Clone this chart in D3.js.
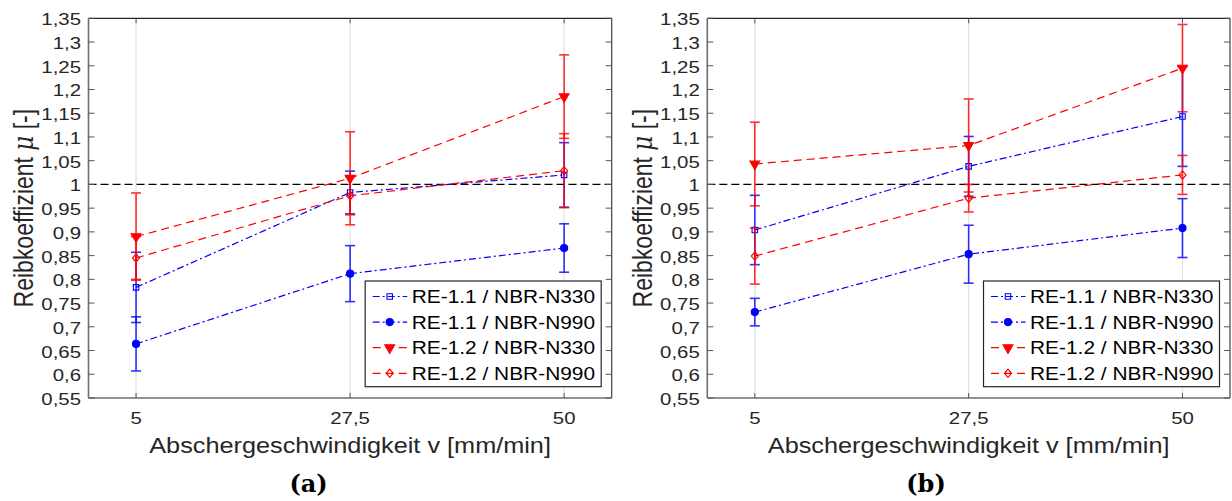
<!DOCTYPE html>
<html>
<head>
<meta charset="utf-8">
<script src="https://cdn.jsdelivr.net/npm/d3@7/dist/d3.min.js"></script>
<style>
  html, body { margin: 0; padding: 0; background: #fff; }
  svg { display: block; }
</style>
</head>
<body>
<script>
// Shear velocities (x categories) and axis ticks
const velocities = [5, 27.5, 50];
const xTickLabels = ["5", "27,5", "50"];
const yTicks = [0.55, 0.6, 0.65, 0.7, 0.75, 0.8, 0.85, 0.9, 0.95, 1, 1.05, 1.1, 1.15, 1.2, 1.25, 1.3, 1.35];

const seriesNames = ["RE-1.1 / NBR-N330", "RE-1.1 / NBR-N990", "RE-1.2 / NBR-N330", "RE-1.2 / NBR-N990"];

// Panel (a): mean friction coefficient and standard deviation
const a_RE11_N330 = [0.783, 0.983, 1.020];
const a_RE11_N330_err = [0.074, 0.045, 0.068];
const a_RE11_N990 = [0.664, 0.812, 0.866];
const a_RE11_N990_err = [0.057, 0.059, 0.051];
const a_RE12_N330 = [0.890, 1.013, 1.185];
const a_RE12_N330_err = [0.092, 0.098, 0.088];
const a_RE12_N990 = [0.845, 0.976, 1.029];
const a_RE12_N990_err = [0.045, 0.040, 0.078];

// Panel (b)
const b_RE11_N330 = [0.904, 1.038, 1.143];
const b_RE11_N330_err = [0.073, 0.063, 0.105];
const b_RE11_N990 = [0.731, 0.853, 0.908];
const b_RE11_N990_err = [0.029, 0.061, 0.062];
const b_RE12_N330 = [1.043, 1.082, 1.245];
const b_RE12_N330_err = [0.088, 0.098, 0.092];
const b_RE12_N990 = [0.849, 0.971, 1.020];
const b_RE12_N990_err = [0.059, 0.029, 0.041];

// Series styles
const styles = [
  { color: "#0000ff", dash: "7,3,2,3", marker: "square" },
  { color: "#0000ff", dash: "7,3,2,3", marker: "circle" },
  { color: "#ff0000", dash: "8,5", marker: "triangle" },
  { color: "#ff0000", dash: "8,5", marker: "diamond" }
];

const W = 1232, H = 501;
const TOP = 18.3, BOTTOM = 398;
const TEXT = "#262626";
const SANS = "'Liberation Sans', Arial, Helvetica, sans-serif";

const svg = d3.select("body").append("svg").attr("width", W).attr("height", H);

function fmt(v) { return String(+v.toFixed(2)).replace(".", ","); }

// Horizontally widened text, matching the figure's typography
function txt(g, x, y, str, o) {
  const t = g.append("text")
    .attr("transform", `translate(${x},${y}) scale(${o.sx || 1},1)` + (o.rotate ? " rotate(-90)" : ""))
    .attr("font-family", o.family || SANS)
    .attr("font-size", o.size)
    .attr("font-weight", o.weight || "normal")
    .attr("text-anchor", o.anchor || "start")
    .attr("fill", o.fill || TEXT);
  if (str !== null) t.text(str);
  return t;
}

function markerPath(kind) {
  switch (kind) {
    case "square": return d3.symbol(d3.symbolSquare, 30)();
    case "circle": return d3.symbol(d3.symbolCircle, 40)();
    case "triangle": return d3.symbol(d3.symbolTriangle, 42)();
    case "diamond": return d3.symbol(d3.symbolDiamond2, 32)();
  }
}

function drawMarker(g, kind, color, cx, cy) {
  const filled = kind === "circle" || kind === "triangle";
  let tr = `translate(${cx},${cy})`;
  if (kind === "triangle") tr += " rotate(180)";
  if (kind === "diamond") tr += " scale(1,1.15)";
  g.append("path")
    .attr("d", markerPath(kind))
    .attr("transform", tr)
    .attr("fill", filled ? color : "none")
    .attr("stroke", color)
    .attr("stroke-width", 1.1);
}

function drawPanel(x0, x1, means, errs, caption, captionX) {
  const g = svg.append("g");
  const x = d3.scaleLinear().domain([0, 55]).range([x0, x1]);
  const y = d3.scaleLinear().domain([0.55, 1.35]).range([BOTTOM, TOP]);

  // vertical grid at x ticks
  g.selectAll("line.grid").data(velocities).enter().append("line")
    .attr("x1", d => x(d)).attr("x2", d => x(d))
    .attr("y1", TOP).attr("y2", BOTTOM)
    .attr("stroke", "#e3e3e3").attr("stroke-width", 1.3);

  // reference line at mu = 1
  g.append("line")
    .attr("x1", x0).attr("x2", x1).attr("y1", y(1)).attr("y2", y(1))
    .attr("stroke", "#000").attr("stroke-width", 1.2).attr("stroke-dasharray", "8,4");

  const line = d3.line().x((d, i) => x(velocities[i])).y(d => y(d));

  means.forEach((m, s) => {
    const st = styles[s];
    const sg = g.append("g");
    // error bars
    m.forEach((v, i) => {
      const cx = x(velocities[i]);
      const e = errs[s][i];
      const eg = sg.append("g").attr("stroke", st.color).attr("stroke-width", 1.6).attr("opacity", 0.8);
      eg.append("line").attr("x1", cx).attr("x2", cx).attr("y1", y(v - e)).attr("y2", y(v + e));
      eg.append("line").attr("x1", cx - 5).attr("x2", cx + 5).attr("y1", y(v - e)).attr("y2", y(v - e));
      eg.append("line").attr("x1", cx - 5).attr("x2", cx + 5).attr("y1", y(v + e)).attr("y2", y(v + e));
    });
    // connecting line
    sg.append("path").datum(m).attr("d", line)
      .attr("fill", "none").attr("stroke", st.color).attr("stroke-width", 1.2)
      .attr("stroke-dasharray", st.dash);
    m.forEach((v, i) => drawMarker(sg, st.marker, st.color, x(velocities[i]), y(v)));
  });

  // axes box
  const ax = g.append("g");
  ax.append("line").attr("x1", x0).attr("x2", x1).attr("y1", TOP).attr("y2", TOP).attr("stroke", "#262626").attr("stroke-width", 1.2);
  ax.append("line").attr("x1", x1).attr("x2", x1).attr("y1", TOP).attr("y2", BOTTOM).attr("stroke", "#404040").attr("stroke-width", 1.2);
  ax.append("line").attr("x1", x0).attr("x2", x1).attr("y1", BOTTOM).attr("y2", BOTTOM).attr("stroke", "#6e6e6e").attr("stroke-width", 1.6);
  ax.append("line").attr("x1", x0).attr("x2", x0).attr("y1", TOP).attr("y2", BOTTOM).attr("stroke", "#6e6e6e").attr("stroke-width", 1.6);

  // inward ticks
  yTicks.forEach(t => {
    ax.append("line").attr("x1", x0).attr("x2", x0 + 6).attr("y1", y(t)).attr("y2", y(t)).attr("stroke", "#555").attr("stroke-width", 1);
    ax.append("line").attr("x1", x1).attr("x2", x1 - 6).attr("y1", y(t)).attr("y2", y(t)).attr("stroke", "#555").attr("stroke-width", 1);
    txt(g, x0 - 7.5, y(t) + 7, fmt(t), { size: 17, sx: 1.2, anchor: "end" });
  });
  velocities.forEach((v, i) => {
    ax.append("line").attr("x1", x(v)).attr("x2", x(v)).attr("y1", BOTTOM).attr("y2", BOTTOM - 5).attr("stroke", "#555").attr("stroke-width", 1);
    ax.append("line").attr("x1", x(v)).attr("x2", x(v)).attr("y1", TOP).attr("y2", TOP + 5).attr("stroke", "#555").attr("stroke-width", 1);
    txt(g, x(v), 424, xTickLabels[i], { size: 17, sx: 1.2, anchor: "middle" });
  });

  // axis titles
  txt(g, (x0 + x1) / 2, 453, "Abschergeschwindigkeit v [mm/min]", { size: 21.8, sx: 1.16, anchor: "middle" });
  const yl = txt(g, x0 - 55.5, (TOP + BOTTOM) / 2, null, { size: 23, sx: 1.18, anchor: "middle", rotate: true });
  yl.append("tspan").text("Reibkoeffizient ");
  yl.append("tspan").attr("font-family", "'DejaVu Serif', 'Liberation Serif', serif").attr("font-style", "italic").text("\u03bc");
  yl.append("tspan").text(" [-]");

  // legend
  const lw = 236, lh = 105.7;
  const lx = x1 - 10.5 - lw, ly = BOTTOM - 11.3 - lh;
  const lg = g.append("g");
  lg.append("rect").attr("x", lx).attr("y", ly).attr("width", lw).attr("height", lh)
    .attr("fill", "#fff").attr("stroke", "#262626").attr("stroke-width", 1.2);
  seriesNames.forEach((name, s) => {
    const st = styles[s];
    const ry = ly + 15.5 + s * 25.6;
    lg.append("line").attr("x1", lx + 7.5).attr("x2", lx + 42).attr("y1", ry).attr("y2", ry)
      .attr("stroke", st.color).attr("stroke-width", 1.2).attr("stroke-dasharray", st.dash);
    drawMarker(lg, st.marker, st.color, lx + 24.5, ry);
    txt(lg, lx + 46.5, ry + 6.6, name, { size: 18.5, sx: 1.13, fill: "#000" });
  });

  // subfigure caption
  txt(g, captionX, 492, caption, { size: 24, sx: 1.0, anchor: "middle", weight: "bold",
    family: "'DejaVu Serif', 'Liberation Serif', serif", fill: "#000" });
}

drawPanel(88.5, 611.7,
  [a_RE11_N330, a_RE11_N990, a_RE12_N330, a_RE12_N990],
  [a_RE11_N330_err, a_RE11_N990_err, a_RE12_N330_err, a_RE12_N990_err],
  "(a)", 308.5);

drawPanel(707.3, 1230,
  [b_RE11_N330, b_RE11_N990, b_RE12_N330, b_RE12_N990],
  [b_RE11_N330_err, b_RE11_N990_err, b_RE12_N330_err, b_RE12_N990_err],
  "(b)", 926);
</script>
</body>
</html>
